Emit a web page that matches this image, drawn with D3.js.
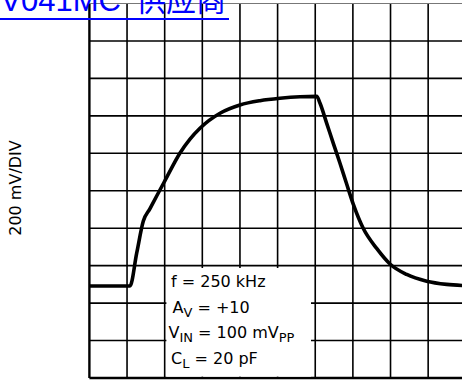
<!DOCTYPE html>
<html>
<head>
<meta charset="utf-8">
<script src="https://cdn.jsdelivr.net/npm/d3@7"></script>
<style>
  html, body { margin: 0; padding: 0; background: #fff; overflow: hidden; }
  svg { display: block; }
</style>
</head>
<body>
<script>
// Pulse response trace: time in microseconds, output in volts (200 mV/div, 0.4 us/div)
const timeUs = [0.000, 0.431, 0.503, 0.573, 0.644, 0.715, 0.803, 0.963, 1.069, 1.175,
                1.388, 1.600, 1.813, 2.025, 2.238, 2.416, 2.451, 2.522, 2.592, 2.663,
                2.734, 2.805, 2.911, 3.053, 3.194, 3.372, 3.584, 3.797, 4.000];
const outputV = [-0.509, -0.509, -0.332, -0.162, -0.095, -0.028, 0.054, 0.202, 0.276, 0.334,
                 0.414, 0.458, 0.481, 0.494, 0.502, 0.504, 0.467, 0.360, 0.253, 0.147,
                 0.036, -0.073, -0.202, -0.308, -0.391, -0.447, -0.483, -0.500, -0.507];

// Graticule divisions
const xDivUs = [0, 0.4, 0.8, 1.2, 1.6, 2.0, 2.4, 2.8, 3.2, 3.6, 4.0];
const yDivV = [-1.0, -0.8, -0.6, -0.4, -0.2, 0, 0.2, 0.4, 0.6, 0.8, 1.0];

const yAxisLabel = "200 mV/DIV";
const headerCode = "V041MC";
const headerWord = "供应商";

// Test conditions; each line is a list of [text, isSubscript]
const conditionLines = [
  [["f = 250 kHz", false]],
  [["A", false], ["V", true], [" = +10", false]],
  [["V", false], ["IN", true], [" = 100 mV", false], ["PP", true]],
  [["C", false], ["L", true], [" = 20 pF", false]]
];

const W = 462, H = 382;
const svg = d3.select("body").append("svg")
  .attr("width", W).attr("height", H)
  .attr("viewBox", `0 0 ${W} ${H}`);

const x = d3.scaleLinear().domain([0, 4]).range([89.4, 465.8]);
const y = d3.scaleLinear().domain([-1, 1]).range([378, 3.5]);

// Grid
const grid = svg.append("g");
grid.selectAll("line.v").data(xDivUs).join("line")
  .attr("class", "v")
  .attr("x1", d => x(d)).attr("x2", d => x(d))
  .attr("y1", y(1)).attr("y2", y(-1))
  .attr("stroke", "#000")
  .attr("stroke-width", d => d === 0 ? 2.4 : 1.6);
grid.selectAll("line.h").data(yDivV).join("line")
  .attr("class", "h")
  .attr("x1", x(0)).attr("x2", x(4))
  .attr("y1", d => y(d)).attr("y2", d => y(d))
  .attr("stroke", d => d === 1 ? "#777" : "#000")
  .attr("stroke-width", d => d === -1 ? 2.4 : (d === 1 ? 1 : 1.6));

// Conditions box (masks the graticule behind the text)
svg.append("rect")
  .attr("x", 166.4).attr("y", 268)
  .attr("width", 144.6).attr("height", 108.6)
  .attr("fill", "#fff");

// Trace
const line = d3.line()
  .x((d, i) => x(timeUs[i]))
  .y(d => y(d))
  .curve(d3.curveMonotoneX);
svg.append("path")
  .attr("d", line(outputV))
  .attr("fill", "none")
  .attr("stroke", "#000")
  .attr("stroke-width", 3.6)
  .attr("stroke-linejoin", "round");

// Conditions text
const textFont = "'DejaVu Sans', sans-serif";
const lineX = [171, 172.5, 168.5, 171];
const firstBaseline = 287, lineStep = 25.7;
conditionLines.forEach((parts, i) => {
  const t = svg.append("text")
    .attr("x", lineX[i])
    .attr("y", firstBaseline + i * lineStep)
    .attr("font-family", textFont)
    .attr("font-size", 16)
    .attr("fill", "#000");
  let shifted = false;
  parts.forEach(([s, sub]) => {
    const ts = t.append("tspan").text(s);
    if (sub) {
      ts.attr("font-size", 13).attr("dy", shifted ? 0 : 4);
      shifted = true;
    } else {
      ts.attr("font-size", 16);
      if (shifted) { ts.attr("dy", -4); shifted = false; }
    }
  });
});

// Vertical scale label
svg.append("text")
  .attr("transform", `translate(21,188) rotate(-90)`)
  .attr("text-anchor", "middle")
  .attr("font-family", textFont)
  .attr("font-size", 16)
  .attr("fill", "#000")
  .text(yAxisLabel);

// Header link
const header = svg.append("g").attr("fill", "#0000ff");
header.append("text")
  .attr("x", 121).attr("y", 11)
  .attr("text-anchor", "end")
  .attr("font-family", "'Liberation Sans', Arial, sans-serif")
  .attr("font-size", 31)
  .text(headerCode);
header.append("text")
  .attr("x", 136).attr("y", 11)
  .attr("font-family", "'Noto Sans CJK SC', sans-serif")
  .attr("font-size", 30)
  .text(headerWord);
header.append("rect")
  .attr("x", 0).attr("y", 18).attr("width", 229).attr("height", 2);
</script>
</body>
</html>
